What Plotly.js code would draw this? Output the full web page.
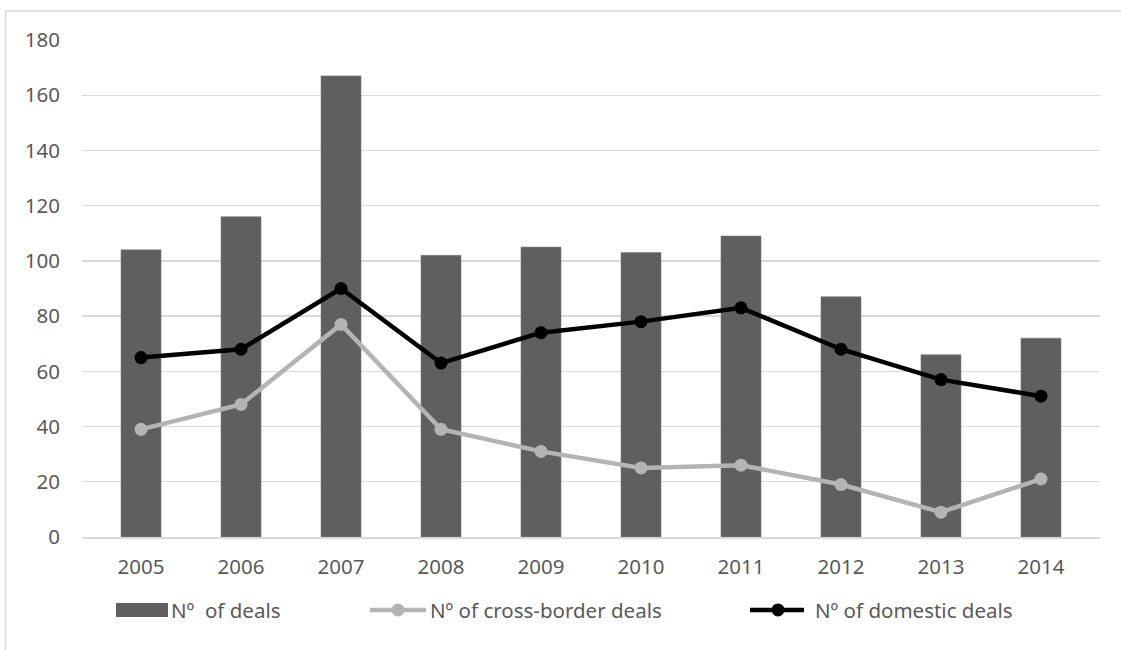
<!DOCTYPE html>
<html>
<head>
<meta charset="utf-8">
<script src="https://cdn.plot.ly/plotly-3.0.1.min.js"></script>
<style>html,body{margin:0;padding:0;background:#fff;}#chart{width:1121px;height:650px;}</style>
</head>
<body>
<div id="chart"></div>
<script>
const years = ['2005','2006','2007','2008','2009','2010','2011','2012','2013','2014'];
const totalDeals = [104, 116, 167, 102, 105, 103, 109, 87, 66, 72];
const crossBorderDeals = [39, 48, 77, 39, 31, 25, 26, 19, 9, 21];
const domesticDeals = [65, 68, 90, 63, 74, 78, 83, 68, 57, 51];
const yTicks = [0, 20, 40, 60, 80, 100, 120, 140, 160, 180];
const seriesNames = ['Nº  of deals', 'Nº of cross-border deals', 'Nº of domestic deals'];

const W = 1121, H = 650;
const L = 82, R = 1100, T = 39.5, B = 537;
const pw = R - L, ph = B - T;
const px = x => (x - L) / pw;
const py = y => (B - y) / ph;

const FONT = '"Noto Sans", "Open Sans", sans-serif';
const TXT = '#595959';
const BAR = '#5f5f5f', CROSS = '#b4b4b4', DOM = '#000000';
const FS = 20.5;

const traces = [
  {type:'bar', x: years, y: totalDeals, name: seriesNames[0],
   marker:{color:BAR, line:{color:'#7a7a7a', width:0.6}}},
  {type:'scatter', mode:'lines+markers', x: years, y: crossBorderDeals, name: seriesNames[1],
   line:{color:CROSS, width:4.5}, marker:{color:CROSS, size:13}},
  {type:'scatter', mode:'lines+markers', x: years, y: domesticDeals, name: seriesNames[2],
   line:{color:DOM, width:4.5}, marker:{color:DOM, size:13}}
];

// manual legend (layout decoration, not data)
const LY = 610;
const shapes = [
  {type:'rect', xref:'paper', yref:'paper', x0: px(5.5), x1: px(1140), y0: py(670), y1: py(10.5),
   line:{color:'#d9d9d9', width:1.5}, fillcolor:'rgba(0,0,0,0)', layer:'below'},
  {type:'rect', xref:'paper', yref:'paper', x0: px(116), x1: px(168), y0: py(617), y1: py(603),
   line:{width:0}, fillcolor:BAR},
  {type:'line', xref:'paper', yref:'paper', x0: px(370), x1: px(426), y0: py(LY), y1: py(LY),
   line:{color:CROSS, width:4.5}},
  {type:'circle', xref:'paper', yref:'paper', x0: px(398-6.5), x1: px(398+6.5), y0: py(LY+6.5), y1: py(LY-6.5),
   line:{width:0}, fillcolor:CROSS},
  {type:'line', xref:'paper', yref:'paper', x0: px(750), x1: px(804), y0: py(LY), y1: py(LY),
   line:{color:DOM, width:4.5}},
  {type:'circle', xref:'paper', yref:'paper', x0: px(778-6.5), x1: px(778+6.5), y0: py(LY+6.5), y1: py(LY-6.5),
   line:{width:0}, fillcolor:DOM}
];
const legFont = {family:FONT, size:FS, color:TXT};
const annotations = [
  {text: seriesNames[0], x: px(169), xanchor:'left'},
  {text: seriesNames[1], x: px(428), xanchor:'left'},
  {text: seriesNames[2], x: px(813), xanchor:'left'}
].map(a => Object.assign(a, {xref:'paper', yref:'paper', y: py(LY), yanchor:'middle', showarrow:false, font:legFont}));

const layout = {
  width: W, height: H,
  margin:{l:L, r:W-R, t:T, b:H-B, pad:0},
  paper_bgcolor:'#fff', plot_bgcolor:'#fff',
  font:{family:FONT, size:FS, color:TXT},
  bargap:0.6,
  showlegend:false,
  xaxis:{type:'category', showgrid:false, showline:true, linecolor:'#d9d9d9', linewidth:1.5,
    ticks:'', tickfont:{family:FONT, size:FS, color:TXT}, ticklabelstandoff:11, zeroline:false},
  yaxis:{range:[0,180], tickvals:yTicks, showgrid:true, gridcolor:'#d9d9d9', gridwidth:1.3,
    showline:false, zeroline:false, ticks:'', tickfont:{family:FONT, size:FS, color:TXT},
    ticklabelstandoff:21, fixedrange:true},
  shapes: shapes,
  annotations: annotations
};

Plotly.newPlot('chart', traces, layout, {displayModeBar:false, staticPlot:true});
</script>
</body>
</html>
